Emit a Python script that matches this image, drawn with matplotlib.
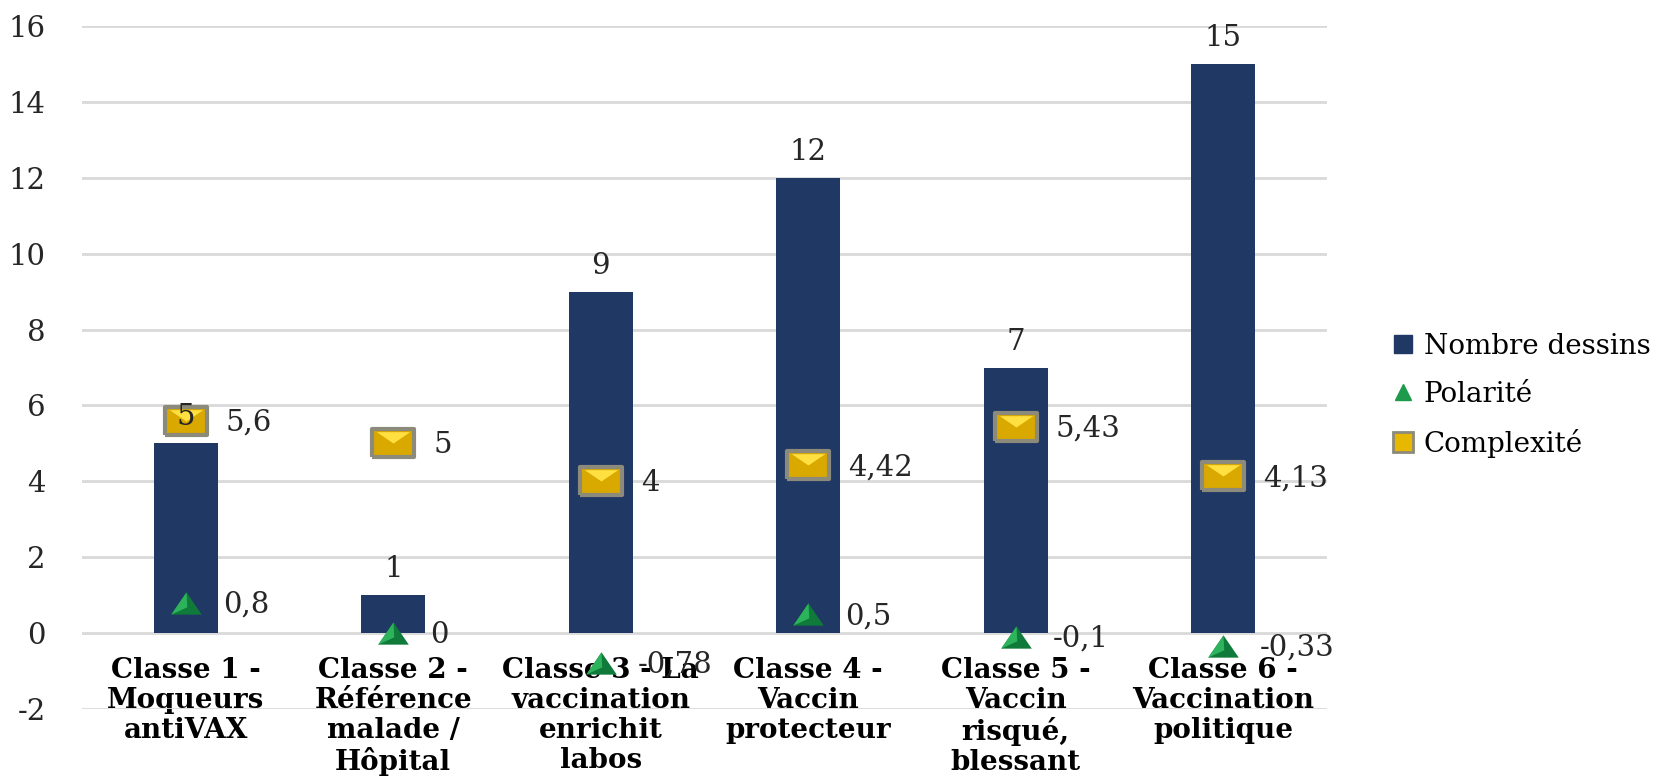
import matplotlib.pyplot as plt
from matplotlib.lines import Line2D

plt.rcParams['axes.unicode_minus'] = False

classes = ['Classe 1 -\nMoqueurs\nantiVAX',
           'Classe 2 -\nRéférence\nmalade /\nHôpital',
           'Classe 3 - La\nvaccination\nenrichit\nlabos',
           'Classe 4 -\nVaccin\nprotecteur',
           'Classe 5 -\nVaccin\nrisqué,\nblessant',
           'Classe 6 -\nVaccination\npolitique']
nombre_dessins = [5, 1, 9, 12, 7, 15]
polarite = [0.8, 0, -0.78, 0.5, -0.1, -0.33]
complexite = [5.6, 5, 4, 4.42, 5.43, 4.13]

BLEU = '#203864'
FONT = 'DejaVu Serif'

# formes des marqueurs (rectangle aplati, triangle large)
rect = [(-1, -0.68), (1, -0.68), (1, 0.68), (-1, 0.68), (-1, -0.68)]
reflet = [(-1, 0.68), (1, 0.68), (0, 0), (-1, 0.68)]
tri = [(-1, -0.73), (1, -0.73), (0, 0.73), (-1, -0.73)]
tri_clair = [(-1, -0.73), (0, 0.73), (0.05, -0.25), (-1, -0.73)]


def fmt(v):
    return f'{v:g}'.replace('.', ',')


def dessine_complexite(ax, x, y, ms, zo):
    ax.plot(x, y, ls='none', marker=rect, ms=ms, mfc='#D9A900', mec='#8C8A7A', mew=3, zorder=zo)
    ax.plot(x, y, ls='none', marker=reflet, ms=ms * 0.8, mfc='#FFE040', mec='none', zorder=zo + 0.1)


def dessine_polarite(ax, x, y, ms, zo):
    ax.plot(x, y, ls='none', marker=tri, ms=ms, mfc='#0F7A3A', mec='none', zorder=zo)
    ax.plot(x, y, ls='none', marker=tri_clair, ms=ms, mfc='#2DB35C', mec='none', zorder=zo + 0.1)


fig = plt.figure(figsize=(16.72, 7.76), dpi=100)
ax = fig.add_axes([82 / 1672, 1 - 709 / 776, 1245 / 1672, 683 / 776])

x = list(range(len(classes)))
ax.bar(x, nombre_dessins, width=0.31, color=BLEU, zorder=2)

for i, v in enumerate(nombre_dessins):
    ax.annotate(str(v), (i, v), xytext=(0, 26), textcoords='offset pixels',
                ha='center', va='center', fontsize=21, family=FONT, color='#262626', zorder=10)

dessine_complexite(ax, x, complexite, 30, 4)
for i, v in enumerate(complexite):
    ax.annotate(fmt(v), (i, v), xytext=(40, -2), textcoords='offset pixels',
                ha='left', va='center', fontsize=21, family=FONT, color='#262626', zorder=10)

dessine_polarite(ax, x, polarite, 22, 5)
for i, v in enumerate(polarite):
    ax.annotate(fmt(v), (i, v), xytext=(37, -2), textcoords='offset pixels',
                ha='left', va='center', fontsize=21, family=FONT, color='#262626', zorder=10)

ax.set_xlim(-0.5, len(classes) - 0.5)
ax.set_ylim(-2, 16)
ax.set_yticks(range(-2, 17, 2))
ax.grid(axis='y', color='#D9D9D9', linewidth=2, zorder=0)
ax.set_axisbelow(True)
for s in ax.spines.values():
    s.set_visible(False)
ax.spines['bottom'].set_position(('data', 0))

ax.set_xticks(x)
ax.set_xticklabels(classes, fontsize=20, family=FONT, fontweight='bold', linespacing=1.15)
ax.tick_params(axis='x', length=0, pad=17)
ax.tick_params(axis='y', length=0, pad=26, labelsize=21, labelcolor='#262626')
for t in ax.get_yticklabels():
    t.set_family(FONT)

# légende à droite
poignees = [
    Line2D([], [], ls='none', marker='s', ms=13, mfc=BLEU, mec=BLEU),
    Line2D([], [], ls='none', marker='^', ms=12, mfc='#1E9A4C', mec='#1E9A4C'),
    Line2D([], [], ls='none', marker='s', ms=14, mfc='#E8B800', mec='#8C8A7A', mew=2),
]
fig.legend(poignees, ['Nombre dessins', 'Polarité', 'Complexité'],
           loc='upper left', bbox_to_anchor=(1378 / 1672, 1 - 319 / 776),
           frameon=False, prop={'family': FONT, 'size': 20}, labelspacing=0.75,
           handlelength=0.8, handletextpad=0.35, borderpad=0)

fig.savefig('out.png', dpi=100)
